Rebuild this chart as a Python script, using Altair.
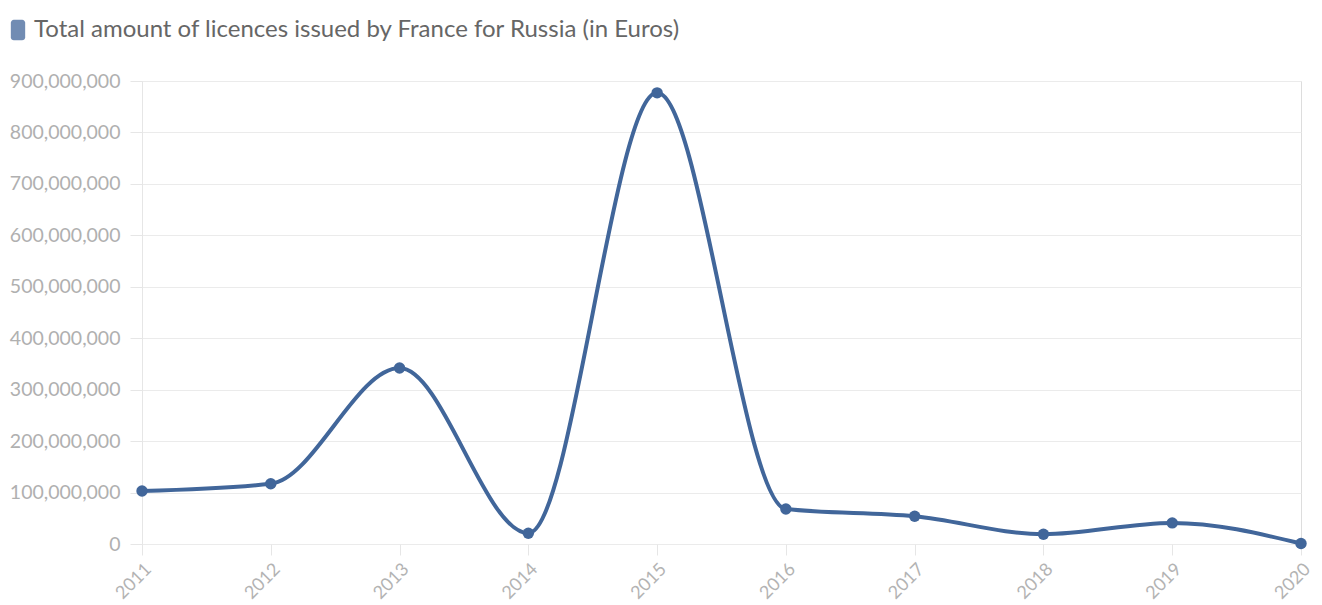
import altair as alt
import pandas as pd

years = ["2011", "2012", "2013", "2014", "2015", "2016", "2017", "2018", "2019", "2020"]
amounts = [103000000, 117000000, 342000000, 21000000, 877000000, 68000000, 54000000, 19000000, 41000000, 1000000]
series_name = "Total amount of licences issued by France for Russia (in Euros)"
y_ticks = [0, 100000000, 200000000, 300000000, 400000000, 500000000, 600000000, 700000000, 800000000, 900000000]

df = pd.DataFrame({"year": years, "amount": amounts, "series": [series_name] * len(years)})

LINE = "#41669a"
FONT = "Lato"
rect_path = ("M-0.4,-1 L0.4,-1 A0.3,0.3 0 0 1 0.7,-0.7 L0.7,0.7 "
             "A0.3,0.3 0 0 1 0.4,1 L-0.4,1 A0.3,0.3 0 0 1 -0.7,0.7 "
             "L-0.7,-0.7 A0.3,0.3 0 0 1 -0.4,-1 Z")

x = alt.X("year:O", title=None, scale=alt.Scale(padding=0),
          axis=alt.Axis(labelAngle=-45, labelFontSize=18, labelColor="#b3b3b3", labelFont=FONT,
                        tickColor="#e6e6e6", tickSize=11, domain=False, grid=False, labelPadding=5))
y = alt.Y("amount:Q", title=None, scale=alt.Scale(domain=[0, 900000000], nice=False),
          axis=alt.Axis(values=y_ticks, format=",d", labelFontSize=19.5, labelColor="#b0b0b0", labelFont=FONT,
                        gridColor="#ebebeb", domainColor="#e6e6e6", tickColor="#e6e6e6", tickSize=12,
                        labelPadding=10))
color = alt.Color("series:N", title=None,
                  scale=alt.Scale(domain=[series_name], range=[LINE]),
                  legend=alt.Legend(orient="none", legendX=-136, legendY=-63, symbolType=rect_path,
                                    symbolSize=420, symbolOpacity=0.75, symbolStrokeWidth=0,
                                    labelFontSize=24, labelColor="#666666", labelFont=FONT,
                                    labelLimit=1000, symbolOffset=0, labelOffset=4))

line = alt.Chart(df).mark_line(interpolate="monotone", strokeWidth=4).encode(x=x, y=y, color=color)
pts = alt.Chart(df).mark_circle(size=130, opacity=1).encode(x=x, y=y, color=color)

chart = (line + pts).properties(
    width=1159, height=463,
    autosize=alt.AutoSizeParams(type="none"),
    padding={"left": 134, "top": 73, "right": 13, "bottom": 58},
).configure_view(stroke="transparent", strokeWidth=0).configure(background="white")

chart.save("out.html", embed_options={"renderer": "svg", "actions": False})
